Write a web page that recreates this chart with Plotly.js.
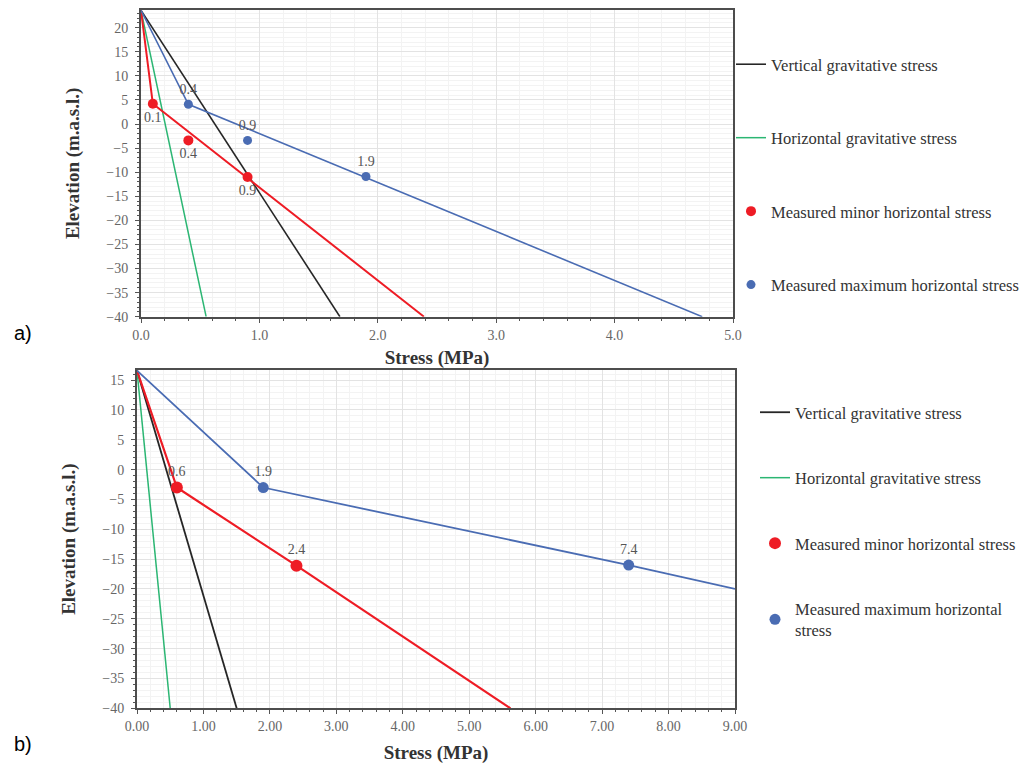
<!DOCTYPE html>
<html>
<head>
<meta charset="utf-8">
<script src="https://cdn.plot.ly/plotly-3.0.1.min.js"></script>
<style>html,body{margin:0;padding:0;background:#fff;}#chart{width:1034px;height:768px;}</style>
</head>
<body>
<div id="chart"></div>
<script>
// ---------- Panel a data ----------
const aVertX = [0, 1.68];
const aVertY = [23.6, -40];
const aHorX = [0, 0.55];
const aHorY = [23.6, -40];
const aMinLineX = [0, 0.1, 2.39];
const aMinLineY = [23.6, 4.2, -40];
const aMaxLineX = [0, 0.4, 4.74];
const aMaxLineY = [23.6, 4.1, -40];
const aMinX = [0.1, 0.4, 0.9];
const aMinY = [4.2, -3.4, -11.0];
const aMinLabels = ['0.1', '0.4', '0.9'];
const aMaxX = [0.4, 0.9, 1.9];
const aMaxY = [4.1, -3.4, -10.9];
const aMaxLabels = ['0.4', '0.9', '1.9'];

// ---------- Panel b data ----------
const bVertX = [0, 1.5];
const bVertY = [16.6, -40];
const bHorX = [0, 0.5];
const bHorY = [16.6, -40];
const bMinLineX = [0, 0.6, 2.4, 5.62];
const bMinLineY = [16.6, -3, -16.1, -40];
const bMaxLineX = [0, 1.9, 7.4, 9];
const bMaxLineY = [16.6, -3, -16, -20];
const bMinX = [0.6, 2.4];
const bMinY = [-3, -16.1];
const bMinLabels = ['0.6', '2.4'];
const bMaxX = [1.9, 7.4];
const bMaxY = [-3, -16];
const bMaxLabels = ['1.9', '7.4'];

const names = ['Vertical gravitative stress', 'Horizontal gravitative stress',
  'Measured minor horizontal stress', 'Measured maximum horizontal stress'];
const namesB = ['Vertical gravitative stress', 'Horizontal gravitative stress',
  'Measured minor horizontal stress', 'Measured maximum horizontal<br>stress'];

const C_BLACK = '#262626', C_GREEN = '#2bb673', C_RED = '#ee1c25', C_BLUE = '#4a6cb3';
const SERIF = 'Liberation Serif, Times New Roman, serif';

function lineTr(x, y, color, w, name, leg, xa, ya, lg, show) {
  return {x: x, y: y, type: 'scatter', mode: 'lines', name: name, xaxis: xa, yaxis: ya,
    line: {color: color, width: w}, showlegend: show, legend: leg, legendgroup: lg, hoverinfo: 'skip'};
}
function markTr(x, y, txt, pos, color, size, name, leg, xa, ya, lg) {
  return {x: x, y: y, type: 'scatter', mode: 'markers+text', name: name, xaxis: xa, yaxis: ya,
    text: txt, textposition: pos, textfont: {family: SERIF, size: 14, color: '#555'},
    marker: {color: color, size: size}, showlegend: true, legend: leg, legendgroup: lg};
}

const traces = [
  lineTr(aVertX, aVertY, C_BLACK, 1.6, names[0], 'legend', 'x', 'y', 'a1', true),
  lineTr(aHorX, aHorY, C_GREEN, 1.5, names[1], 'legend', 'x', 'y', 'a2', true),
  lineTr(aMinLineX, aMinLineY, C_RED, 2, 'minline', 'legend', 'x', 'y', 'a3', false),
  lineTr(aMaxLineX, aMaxLineY, C_BLUE, 1.6, 'maxline', 'legend', 'x', 'y', 'a4', false),
  markTr(aMinX, aMinY, aMinLabels, 'bottom center', C_RED, 10, names[2], 'legend', 'x', 'y', 'a3'),
  markTr(aMaxX, aMaxY, aMaxLabels, 'top center', C_BLUE, 9, names[3], 'legend', 'x', 'y', 'a4'),

  lineTr(bVertX, bVertY, C_BLACK, 1.8, namesB[0], 'legend2', 'x2', 'y2', 'b1', true),
  lineTr(bHorX, bHorY, C_GREEN, 1.5, namesB[1], 'legend2', 'x2', 'y2', 'b2', true),
  lineTr(bMinLineX, bMinLineY, C_RED, 2.2, 'minline', 'legend2', 'x2', 'y2', 'b3', false),
  lineTr(bMaxLineX, bMaxLineY, C_BLUE, 1.8, 'maxline', 'legend2', 'x2', 'y2', 'b4', false),
  markTr(bMinX, bMinY, bMinLabels, 'top center', C_RED, 12, namesB[2], 'legend2', 'x2', 'y2', 'b3'),
  markTr(bMaxX, bMaxY, bMaxLabels, 'top center', C_BLUE, 11, namesB[3], 'legend2', 'x2', 'y2', 'b4')
];

const W = 1034, H = 768;
function px(x) { return x / W; }
function py(y) { return 1 - y / H; }

const axBase = {
  showline: true, mirror: true, linecolor: '#4d4d4d', linewidth: 2,
  showgrid: true, gridcolor: '#e3e3e3', gridwidth: 1, zeroline: false,
  tickfont: {family: SERIF, size: 14, color: '#666'},
  ticks: 'outside', ticklen: 4, tickcolor: '#555',
  fixedrange: true
};
const titleFont = {family: SERIF, size: 19, color: '#333', weight: 'bold'};

const layout = {
  width: W, height: H, margin: {l: 0, r: 0, t: 0, b: 0},
  paper_bgcolor: '#fff', plot_bgcolor: '#fff',
  font: {family: SERIF},
  xaxis: Object.assign({}, axBase, {
    domain: [px(141), px(733)], range: [0, 5], dtick: 1, tickformat: '.1f', anchor: 'y',
    minor: {dtick: 0.2, showgrid: true, gridcolor: '#f3f3f3', ticks: 'outside', ticklen: 2, tickcolor: '#555'},
    title: {text: '<b>Stress (MPa)</b>', font: titleFont, standoff: 9}
  }),
  yaxis: Object.assign({}, axBase, {
    domain: [py(316.7), py(10)], range: [-40, 23.67], dtick: 5, anchor: 'x',
    ticklabelstandoff: 4,
    minor: {dtick: 1, showgrid: true, gridcolor: '#f3f3f3', ticks: 'outside', ticklen: 2, tickcolor: '#555'},
    title: {text: '<b>Elevation (m.a.s.l.)</b>', font: titleFont, standoff: 22}
  }),
  xaxis2: Object.assign({}, axBase, {
    domain: [px(137), px(735)], range: [0, 9], dtick: 1, tickformat: '.2f', anchor: 'y2',
    minor: {dtick: 0.2, showgrid: true, gridcolor: '#f3f3f3', ticks: 'outside', ticklen: 2, tickcolor: '#555'},
    title: {text: '<b>Stress (MPa)</b>', font: titleFont, standoff: 13}
  }),
  yaxis2: Object.assign({}, axBase, {
    domain: [py(708.3), py(370)], range: [-40, 16.7], dtick: 5, anchor: 'x2',
    ticklabelstandoff: 4,
    minor: {dtick: 1, showgrid: true, gridcolor: '#f3f3f3', ticks: 'outside', ticklen: 2, tickcolor: '#555'},
    title: {text: '<b>Elevation (m.a.s.l.)</b>', font: titleFont, standoff: 22}
  }),
  legend: {
    x: px(731), y: py(47), xanchor: 'left', yanchor: 'top',
    font: {family: SERIF, size: 16.5, color: '#333'}, bgcolor: 'rgba(0,0,0,0)',
    traceorder: 'grouped', tracegroupgap: 49, itemclick: false, itemdoubleclick: false
  },
  legend2: {
    x: px(755), y: py(395), xanchor: 'left', yanchor: 'top',
    font: {family: SERIF, size: 16.5, color: '#333'}, bgcolor: 'rgba(0,0,0,0)',
    traceorder: 'grouped', tracegroupgap: 41, itemclick: false, itemdoubleclick: false
  },
  annotations: [
    {text: 'a)', x: px(12), y: py(333), xref: 'paper', yref: 'paper', xanchor: 'left', yanchor: 'middle',
      showarrow: false, font: {family: 'Liberation Sans, Arial, sans-serif', size: 20, color: '#000'}},
    {text: 'b)', x: px(12), y: py(744), xref: 'paper', yref: 'paper', xanchor: 'left', yanchor: 'middle',
      showarrow: false, font: {family: 'Liberation Sans, Arial, sans-serif', size: 20, color: '#000'}}
  ],
  showlegend: true
};

Plotly.newPlot('chart', traces, layout, {displayModeBar: false, staticPlot: true});
</script>
</body>
</html>
